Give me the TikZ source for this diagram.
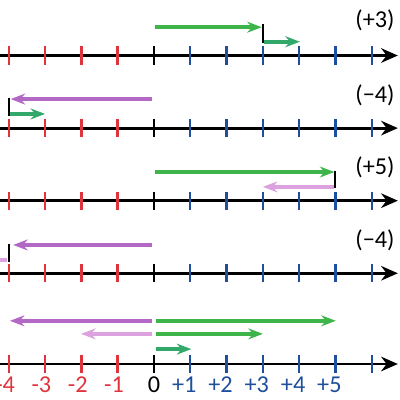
\documentclass[tikz,border=0pt]{standalone}
\usepackage{fontspec}
\setmainfont{Carlito}
\usepackage{xcolor}
\usetikzlibrary{arrows.meta}
\definecolor{addgreen}{HTML}{3DB54A}
\definecolor{stepgreen}{HTML}{33A86B}
\definecolor{subpurple}{HTML}{B468C6}
\definecolor{lightpurple}{HTML}{DBA2DF}
\definecolor{tickred}{HTML}{E0343C}
\definecolor{tickblue}{HTML}{1F4F9C}

\begin{document}
\begin{tikzpicture}[
  axis/.style={line width=2.2pt, -{Stealth[length=4.6mm, width=4mm]}},
  negtick/.style={line width=1.9pt, color=tickred},
  postick/.style={line width=1.9pt, color=tickblue},
  zerotick/.style={line width=1.9pt, color=black},
  move/.style={line width=3pt, -{Stealth[length=4mm, width=3mm]}},
  bar/.style={line width=1.5pt, color=black},
  tag/.style={font=\fontsize{19}{22}\selectfont},
  numlabel/.style={font=\fontsize{19}{22}\selectfont}
]
  \useasboundingbox (-4.243,-0.992) rectangle (6.777,10.03);

  % five number lines
  \foreach \row/\y in {a/8.5, b/6.5, c/4.5, d/2.5, e/0} {
    \coordinate (\row-start) at (-4.6,\y);
    \coordinate (\row-end) at (6.72,\y);
    \draw[axis] (\row-start) -- (\row-end);
    \foreach \k in {-4,...,-1}
      \draw[negtick] (\k,\y-0.25) -- (\k,\y+0.25);
    \draw[zerotick] (0,\y-0.25) -- (0,\y+0.25);
    \foreach \k in {1,...,6}
      \draw[postick] (\k,\y-0.25) -- (\k,\y+0.25);
  }

  % row a: (+3)
  \coordinate (a0) at (0.03,9.28);
  \coordinate (a3) at (2.97,9.28);
  \coordinate (abar) at (3,9.36);
  \coordinate (abase) at (3,8.84);
  \coordinate (a3s) at (3.04,8.88);
  \coordinate (a4) at (4.02,8.88);
  \draw[move, addgreen] (a0) -- (a3);
  \draw[bar] (abar) -- (abase);
  \draw[move, stepgreen] (a3s) -- (a4);
  \node[tag] (taga) at (6.09,9.48) {(+3)};

  % row b: (-4)
  \coordinate (b0) at (-0.05,7.30);
  \coordinate (b4) at (-3.95,7.30);
  \coordinate (bbar) at (-4,7.34);
  \coordinate (bbase) at (-4,6.83);
  \coordinate (b4s) at (-3.96,6.89);
  \coordinate (b3) at (-3,6.89);
  \draw[move, subpurple] (b0) -- (b4);
  \draw[bar] (bbar) -- (bbase);
  \draw[move, stepgreen] (b4s) -- (b3);
  \node[tag] (tagb) at (6.09,7.41) {(−4)};

  % row c: (+5)
  \coordinate (c0) at (0.03,5.29);
  \coordinate (c5) at (4.97,5.29);
  \coordinate (cbar) at (5,5.31);
  \coordinate (cbase) at (5,4.86);
  \coordinate (c5s) at (4.96,4.88);
  \coordinate (c3) at (3,4.88);
  \draw[move, addgreen] (c0) -- (c5);
  \draw[bar] (cbar) -- (cbase);
  \draw[move, lightpurple] (c5s) -- (c3);
  \node[tag] (tagc) at (6.09,5.43) {(+5)};

  % row d: (-4)
  \coordinate (d0) at (-0.05,3.28);
  \coordinate (d4) at (-3.88,3.28);
  \coordinate (dbar) at (-4,3.31);
  \coordinate (dbase) at (-4,2.81);
  \coordinate (d4s) at (-4.04,2.86);
  \coordinate (d5) at (-5,2.86);
  \draw[move, subpurple] (d0) -- (d4);
  \draw[bar] (dbar) -- (dbase);
  \draw[move, lightpurple] (d4s) -- (d5);
  \node[tag] (tagd) at (6.09,3.42) {(−4)};

  % row e: all moves from zero
  \coordinate (e0l) at (-0.05,1.19);
  \coordinate (e4) at (-3.97,1.19);
  \coordinate (e0r) at (0.05,1.19);
  \coordinate (e5) at (5.01,1.19);
  \coordinate (e0ll) at (-0.05,0.83);
  \coordinate (e2) at (-2.01,0.83);
  \coordinate (e0rr) at (0.05,0.83);
  \coordinate (e3) at (3,0.83);
  \coordinate (e0s) at (0.05,0.41);
  \coordinate (e1) at (1.03,0.41);
  \draw[move, subpurple] (e0l) -- (e4);
  \draw[move, addgreen] (e0r) -- (e5);
  \draw[move, lightpurple] (e0ll) -- (e2);
  \draw[move, addgreen] (e0rr) -- (e3);
  \draw[move, stepgreen] (e0s) -- (e1);

  % labels under the last line
  \foreach \k in {1,...,4}
    \node[numlabel, text=tickred] (neg\k) at (-\k,-0.58) {\llap{-}\k};
  \node[numlabel] (zero) at (0,-0.58) {0};
  \foreach \k in {1,...,5}
    \node[numlabel, text=tickblue] (pos\k) at (\k,-0.58) {\llap{+}\k};
\end{tikzpicture}
\end{document}
